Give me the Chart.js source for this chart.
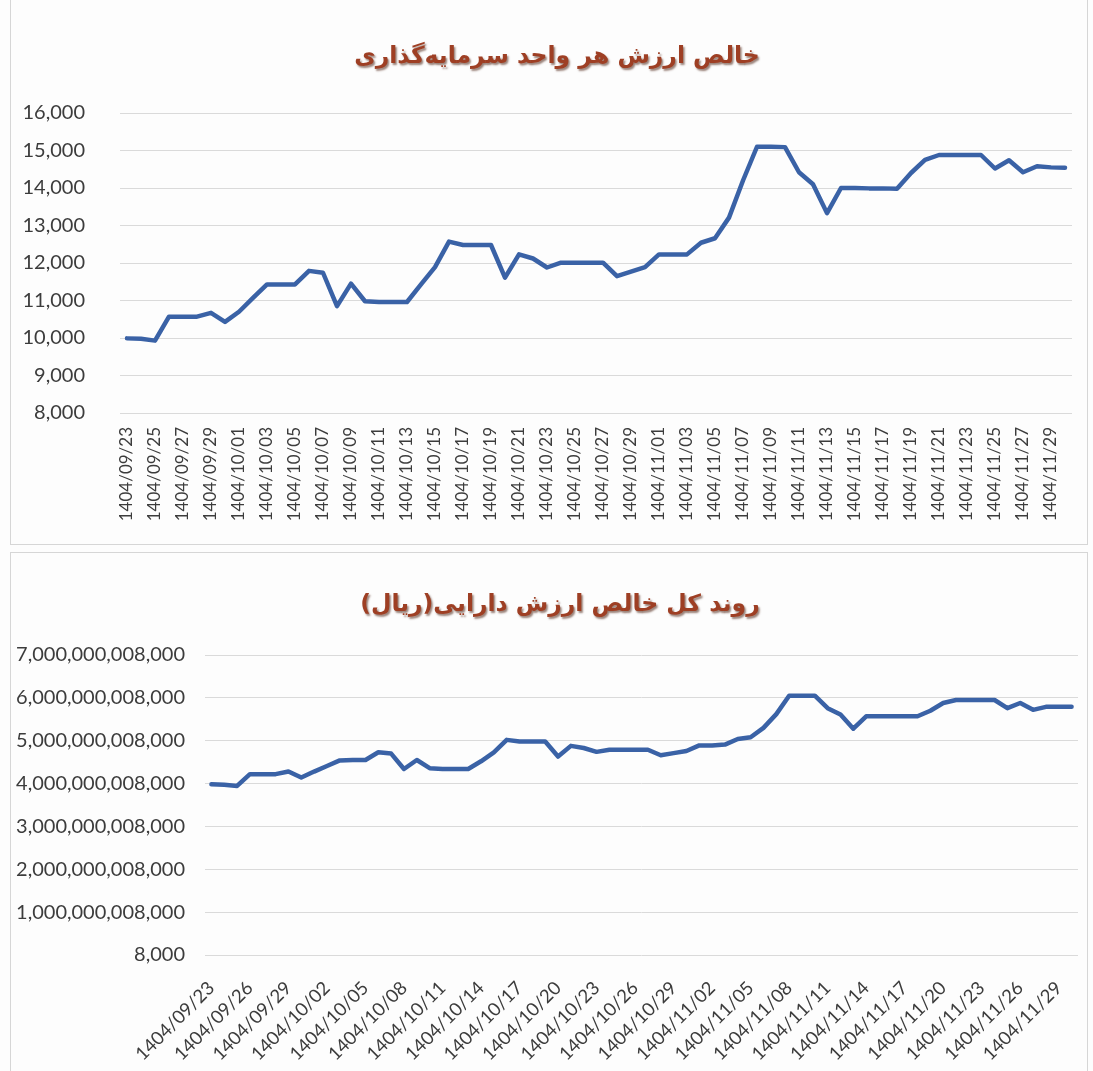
<!DOCTYPE html>
<html>
<head>
<meta charset="utf-8">
<script src="https://cdn.jsdelivr.net/npm/chart.js@4.4.1/dist/chart.umd.min.js"></script>
<style>
  html, body { margin: 0; padding: 0; background: #fdfdfd; }
  body { width: 1093px; height: 1071px; position: relative; overflow: hidden; }
  .frame { position: absolute; border: 1px solid #d6d6d6; box-sizing: border-box; }
  .panel { position: absolute; left: 0; width: 1093px; }
  canvas { display: block; }
</style>
</head>
<body>
<div class="frame" style="left:10px; top:-4px; width:1078px; height:549px;"></div>
<div class="frame" style="left:10px; top:552px; width:1078px; height:530px;"></div>
<div class="panel" style="top:0; height:548px;"><canvas id="c1" width="1093" height="548"></canvas></div>
<div class="panel" style="top:548px; height:523px;"><canvas id="c2" width="1093" height="523"></canvas></div>
<script>
// ---------- data ----------
const dates = [
  "1404/09/23","1404/09/24","1404/09/25","1404/09/26","1404/09/27","1404/09/28","1404/09/29","1404/09/30",
  "1404/10/01","1404/10/02","1404/10/03","1404/10/04","1404/10/05","1404/10/06","1404/10/07","1404/10/08",
  "1404/10/09","1404/10/10","1404/10/11","1404/10/12","1404/10/13","1404/10/14","1404/10/15","1404/10/16",
  "1404/10/17","1404/10/18","1404/10/19","1404/10/20","1404/10/21","1404/10/22","1404/10/23","1404/10/24",
  "1404/10/25","1404/10/26","1404/10/27","1404/10/28","1404/10/29","1404/10/30",
  "1404/11/01","1404/11/02","1404/11/03","1404/11/04","1404/11/05","1404/11/06","1404/11/07","1404/11/08",
  "1404/11/09","1404/11/10","1404/11/11","1404/11/12","1404/11/13","1404/11/14","1404/11/15","1404/11/16",
  "1404/11/17","1404/11/18","1404/11/19","1404/11/20","1404/11/21","1404/11/22","1404/11/23","1404/11/24",
  "1404/11/25","1404/11/26","1404/11/27","1404/11/28","1404/11/29","1404/11/30"
];

const navPerUnit = [
  9990, 9980, 9930, 10570, 10570, 10570, 10670, 10430,
  10700, 11070, 11430, 11430, 11430, 11790, 11740, 10850,
  11450, 10980, 10960, 10960, 10960, 11430, 11890, 12570,
  12480, 12480, 12480, 11610, 12230, 12120, 11880, 12010,
  12010, 12010, 12010, 11650, 11770, 11890,
  12230, 12230, 12230, 12540, 12660, 13210, 14200, 15100,
  15100, 15090, 14420, 14100, 13330, 14000, 14000, 13990,
  13990, 13980, 14400, 14750, 14880, 14880, 14880, 14880,
  14520, 14740, 14420, 14580, 14550, 14540
];

const totalNav = [
  3984000000000, 3970000000000, 3945000000000, 4220000000000, 4220000000000, 4220000000000, 4280000000000, 4140000000000,
  4280000000000, 4410000000000, 4540000000000, 4550000000000, 4550000000000, 4730000000000, 4700000000000, 4340000000000,
  4550000000000, 4360000000000, 4340000000000, 4340000000000, 4340000000000, 4520000000000, 4730000000000, 5020000000000,
  4980000000000, 4980000000000, 4980000000000, 4630000000000, 4880000000000, 4830000000000, 4740000000000, 4790000000000,
  4790000000000, 4790000000000, 4790000000000, 4660000000000, 4710000000000, 4760000000000,
  4890000000000, 4890000000000, 4910000000000, 5040000000000, 5080000000000, 5300000000000, 5620000000000, 6050000000000,
  6050000000000, 6050000000000, 5760000000000, 5610000000000, 5280000000000, 5570000000000, 5570000000000, 5570000000000,
  5570000000000, 5570000000000, 5700000000000, 5880000000000, 5950000000000, 5950000000000, 5950000000000, 5950000000000,
  5760000000000, 5880000000000, 5720000000000, 5790000000000, 5790000000000, 5790000000000
];

const topTitle = "خالص ارزش هر واحد سرمایه‌گذاری";
const bottomTitle = "روند کل خالص ارزش دارایی(ریال)";

const topYTicks = [8000, 9000, 10000, 11000, 12000, 13000, 14000, 15000, 16000];
const bottomYTicks = [8000, 1000000008000, 2000000008000, 3000000008000, 4000000008000,
                      5000000008000, 6000000008000, 7000000008000];

const topLabelStep = 2;
const bottomLabelStep = 3;

// ---------- styling ----------
const LINE = '#3A62A6';
const GRID = '#dadada';
const TICK = '#3c3c3c';
const TITLE = '#9E3F24';

const titleStyle = {
  id: 'titleStyle',
  beforeDraw(chart, args, opts) {
    const tb = chart.titleBlock;
    if (tb && !tb._styled) {
      const orig = tb.draw.bind(tb);
      tb.draw = function () {
        const ctx = chart.ctx;
        ctx.save();
        ctx.translate(opts.shift || 0, 0);
        ctx.direction = 'rtl';
        ctx.shadowColor = 'rgba(70,25,10,0.55)';
        ctx.shadowOffsetX = 1.5;
        ctx.shadowOffsetY = 1.5;
        ctx.shadowBlur = 2;
        orig();
        ctx.restore();
      };
      tb._styled = true;
    }
  }
};

function fmt(v) { return Number(v).toLocaleString('en-US'); }

function makeChart(id, data, cfg) {
  return new Chart(document.getElementById(id), {
    type: 'line',
    data: {
      labels: dates,
      datasets: [{
        data: data,
        borderColor: LINE,
        borderWidth: 4.5,
        pointRadius: 0,
        pointHoverRadius: 0,
        tension: 0,
        fill: false,
        borderJoinStyle: 'round',
        borderCapStyle: 'round'
      }]
    },
    options: {
      responsive: false,
      animation: false,
      devicePixelRatio: 1,
      layout: { padding: { left: 0, right: cfg.padRight, top: 0, bottom: 0 } },
      plugins: {
        legend: { display: false },
        tooltip: { enabled: false },
        titleStyle: { shift: cfg.titleShift },
        title: {
          display: true,
          text: cfg.title,
          color: TITLE,
          font: { family: 'DejaVu Sans', size: cfg.titleSize, weight: 'bold' },
          padding: { top: cfg.titleTop, bottom: cfg.titleBottom }
        }
      },
      scales: {
        x: {
          offset: true,
          grid: { display: false, drawTicks: false },
          border: { display: false },
          ticks: {
            autoSkip: false,
            minRotation: cfg.rotation,
            maxRotation: cfg.rotation,
            padding: cfg.xPad,
            color: TICK,
            font: { family: 'Lato', size: cfg.xFont },
            callback: function (v, i) { return i % cfg.step === 0 ? dates[i] : ''; }
          },
          afterFit: function (s) {
            s.height = cfg.xHeight;
            s.paddingLeft = 0;
            s.paddingRight = 0;
          }
        },
        y: {
          min: cfg.yTicks[0],
          max: cfg.yTicks[cfg.yTicks.length - 1],
          grid: { color: GRID, lineWidth: 1, drawTicks: false },
          border: { display: false },
          ticks: {
            padding: cfg.yPad,
            color: TICK,
            font: { family: 'Lato', size: 20 },
            callback: function (v) { return fmt(v); }
          },
          afterBuildTicks: function (s) { s.ticks = cfg.yTicks.map(v => ({ value: v })); },
          afterFit: function (s) { s.width = cfg.yWidth; }
        }
      }
    },
    plugins: [titleStyle]
  });
}

makeChart('c1', navPerUnit, {
  title: topTitle, titleSize: 23.5, titleTop: 43, titleBottom: 41.8, titleShift: 21,
  padRight: 21, yWidth: 120, yPad: 35,
  xHeight: 135, xPad: 14, xFont: 17, rotation: 90, step: topLabelStep, yTicks: topYTicks
});

makeChart('c2', totalNav, {
  title: bottomTitle, titleSize: 23.5, titleTop: 43, titleBottom: 35.8, titleShift: 21,
  padRight: 15, yWidth: 205, yPad: 20,
  xHeight: 116, xPad: 22, xFont: 18.5, rotation: 45, step: bottomLabelStep, yTicks: bottomYTicks
});
</script>
</body>
</html>
